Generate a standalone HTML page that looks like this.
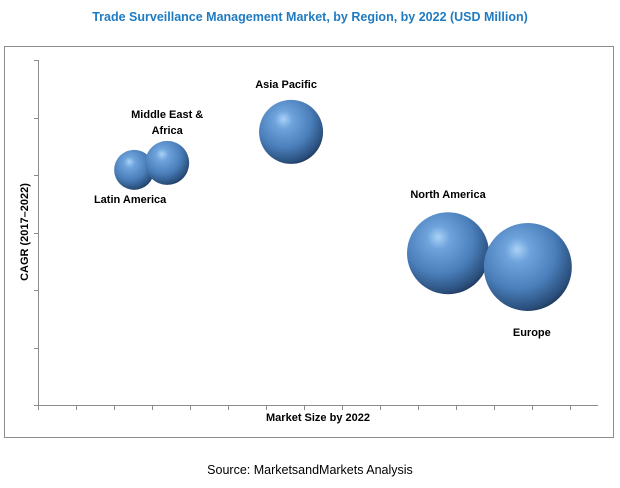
<!DOCTYPE html>
<html><head><meta charset="utf-8"><style>
body{margin:0;background:#fff;width:620px;height:483px;overflow:hidden;font-family:"Liberation Sans",Arial,sans-serif}
</style></head><body>
<svg width="620" height="483">
<defs>
<radialGradient id="g" cx="0.4" cy="0.35" r="0.7" fx="0.38" fy="0.3">
<stop offset="0" stop-color="#a9d2f6"/>
<stop offset="0.2" stop-color="#6fa3dc"/>
<stop offset="0.6" stop-color="#4a7fbb"/>
<stop offset="0.9" stop-color="#2a4f7c"/>
<stop offset="1" stop-color="#1d3452"/>
</radialGradient>
</defs>
<text x="310" y="21" text-anchor="middle" font-size="12.5" font-weight="bold" fill="#1f7bc2">Trade Surveillance Management Market, by Region, by 2022 (USD Million)</text>
<rect x="4.5" y="46.5" width="609" height="391" fill="none" stroke="#8c8c8c"/>
<g id="axes"></g>
<g id="bubbles"></g>
<text transform="translate(28,232) rotate(-90)" text-anchor="middle" font-size="11" font-weight="bold" fill="#000">CAGR (2017–2022)</text>
<text x="318" y="421" text-anchor="middle" font-size="11" font-weight="bold" fill="#000">Market Size by 2022</text>
<text x="310" y="474" text-anchor="middle" font-size="12.5" fill="#000">Source: MarketsandMarkets Analysis</text>
</svg>
<script>
const regions=["Latin America","Middle East & Africa","Asia Pacific","North America","Europe"];
const marketSize=[2.53,3.4,6.66,10.79,12.89];
const cagr=[4.09,4.21,4.75,2.64,2.4];
const bubbleSize=[20,22,32,41,44];
const xTicks=[0,1,2,3,4,5,6,7,8,9,10,11,12,13,14];
const yTicks=[0,1,2,3,4,5,6];
const X=v=>38+v*38, Y=v=>405-v*57.5;
const NS="http://www.w3.org/2000/svg";
function mk(t,a,p){const e=document.createElementNS(NS,t);for(const k in a)e.setAttribute(k,a[k]);p.appendChild(e);return e;}
const ax=document.getElementById('axes');
let l=mk('line',{x1:38.5,y1:60,x2:38.5,y2:405.5,stroke:'#8c8c8c'},ax);


l=mk('line',{x1:38,y1:405.5,x2:598,y2:405.5,stroke:'#8c8c8c'},ax);


yTicks.forEach(t=>{const e=mk('line',{x1:34,x2:38.5,y1:Math.round(Y(t))+.5,y2:Math.round(Y(t))+.5,stroke:'#8c8c8c'},ax);

});
xTicks.forEach(t=>{const e=mk('line',{x1:Math.round(X(t))+.5,x2:Math.round(X(t))+.5,y1:405.5,y2:410,stroke:'#8c8c8c'},ax);

});
const bg=document.getElementById('bubbles');
const labelOff=[[[-4,33]],[[0,-45],[0,-29]],[[-5,-44]],[[0,-55]],[[4,69]]];
const labelText=[["Latin America"],["Middle East &","Africa"],["Asia Pacific"],["North America"],["Europe"]];
regions.forEach((r,i)=>{
 const c=mk('circle',{cx:X(marketSize[i]),cy:Y(cagr[i]),r:bubbleSize[i],fill:'url(#g)'},bg);
 
 
 labelText[i].forEach((s,j)=>{
  const t=mk('text',{x:X(marketSize[i])+labelOff[i][j][0],y:Y(cagr[i])+labelOff[i][j][1],'text-anchor':'middle','font-size':'11','font-weight':'bold',fill:'#000'},bg);
  t.textContent=s;
  
  
 });
});
</script>
</body></html>
